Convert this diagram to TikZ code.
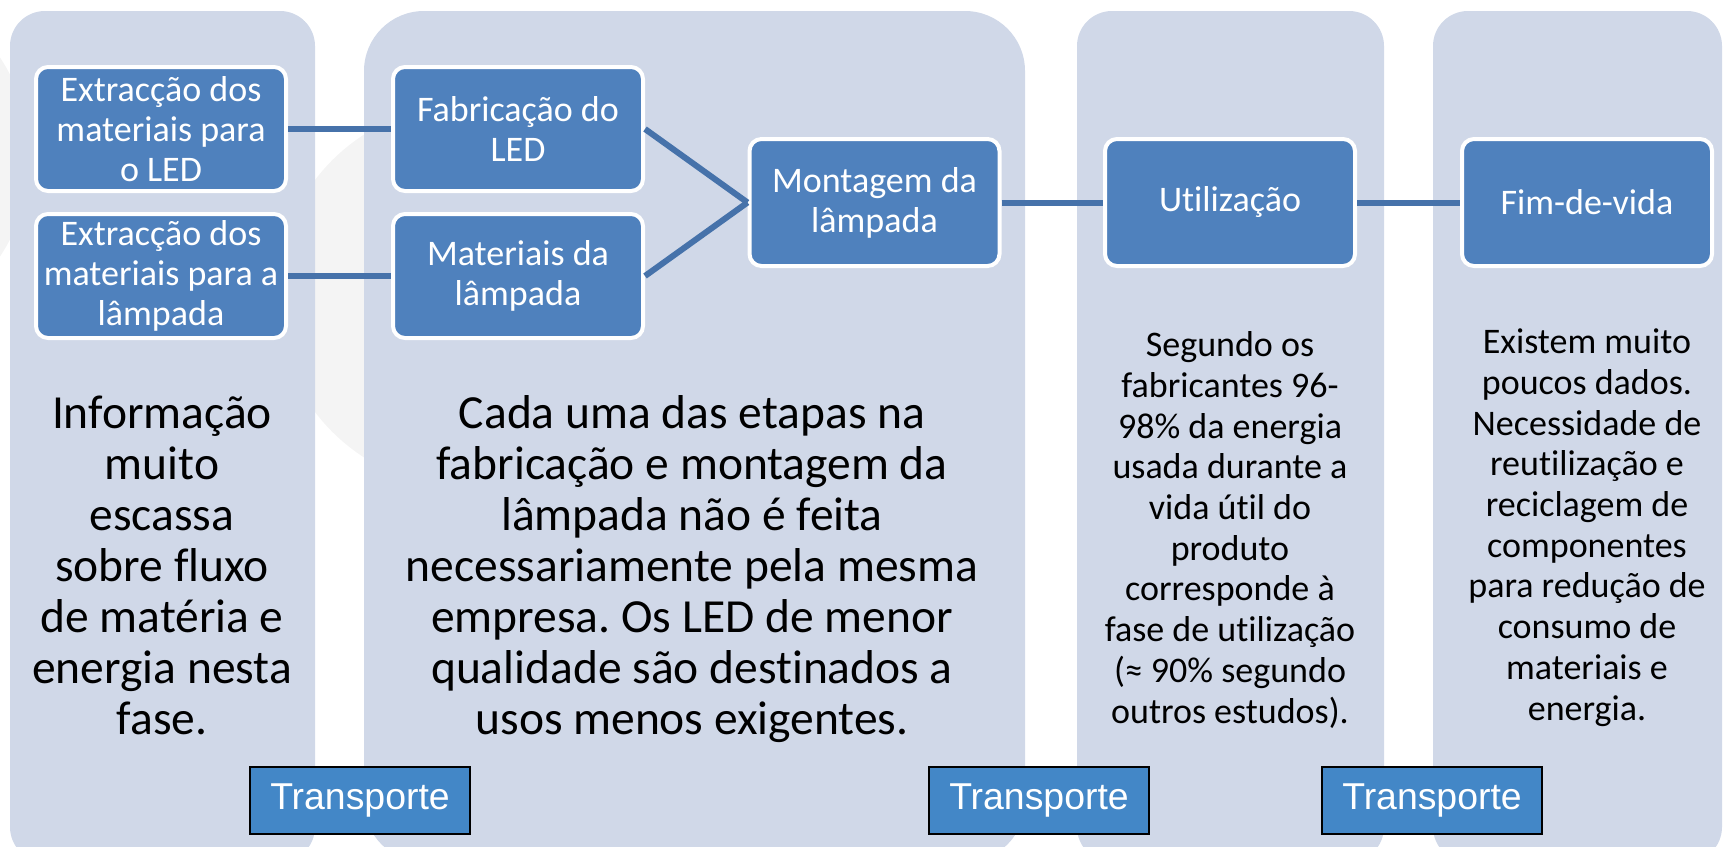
\documentclass[tikz,border=0pt]{standalone}
\usepackage{fontspec}
\setmainfont{Carlito}[Ligatures=NoCommon]
\newfontfamily\arialfont{Liberation Sans}
\usepackage{tikz}
\frenchspacing

\definecolor{panelfill}{HTML}{D0D8E8}
\definecolor{boxfill}{HTML}{4F81BD}
\definecolor{linkblue}{HTML}{4672AA}
\definecolor{transfill}{HTML}{4387C7}
\definecolor{markgray}{HTML}{F4F4F4}

\begin{document}
\begin{tikzpicture}[x=0.5pt,y=0.5pt,yscale=-1,xscale=1,
  panel/.style={fill=panelfill,draw=none},
  stage/.style={rectangle,rounded corners=6pt,fill=boxfill,draw=white,line width=2pt,text=white,align=center,minimum width=125pt,minimum height=62pt,inner sep=0pt,font=\fontsize{18}{20}\selectfont},
  link/.style={draw=linkblue,line width=3pt},
  transbox/.style={rectangle,fill=transfill,draw=black,line width=1pt,text=white,minimum width=110pt,minimum height=33.5pt,inner sep=0pt,font=\arialfont\fontsize{18.7}{20}\selectfont},
  bigtext/.style={align=center,inner sep=0pt,font=\fontsize{23.75}{25.5}\selectfont},
  smalltext/.style={align=center,inner sep=0pt,font=\fontsize{18}{20.35}\selectfont}]
\useasboundingbox (0,0) rectangle (1724,846);
\clip (0,0) rectangle (1724,846);

%Faint background marks
\fill[markgray] (468,296) circle [radius=192];
\fill[markgray] (-150,157) circle [radius=180];

%Panels
\draw[panel,rounded corners=17.5pt] (10,11) rectangle (315,862);
\draw[panel,rounded corners=30pt] (364,11) rectangle (1025,862);
\draw[panel,rounded corners=17.5pt] (1077,11) rectangle (1384,862);
\draw[panel,rounded corners=17.5pt] (1433,11) rectangle (1722,862);

% Stage boxes
\node (extled) at (161,129) [stage] {Extracção dos\\materiais para\\o LED};
\node (extlamp) at (161,276) [stage] {Extracção dos\\materiais para a\\lâmpada};
\node (fabled) at (518,129) [stage] {Fabricação do\\LED};
\node (matlamp) at (518,276) [stage] {Materiais da\\lâmpada};
\node (montagem) at (874.5,202.5) [stage,minimum height=63.5pt] {Montagem da\\lâmpada};
\node (utilizacao) at (1230,202.5) [stage,minimum height=63.5pt] {Utilização};
\node (fimvida) at (1587,202.5) [stage,minimum height=63.5pt] {Fim-de-vida};

%Straight Lines
\draw[link] (extled) -- (fabled);
\draw[link] (extlamp) -- (matlamp);
\draw[link] (fabled.east) -- (montagem.west);
\draw[link] (matlamp.east) -- (montagem.west);
\draw[link] (montagem) -- (utilizacao);
\draw[link] (utilizacao) -- (fimvida);

% Text Node
\node (infotext) at (162,734) [bigtext,anchor=base] {Informação\\muito\\escassa\\sobre fluxo\\de matéria e\\energia nesta\\fase.};
% Text Node
\node (etapastext) at (692,734) [bigtext,anchor=base] {Cada uma das etapas na\\fabricação e montagem da\\lâmpada não é feita\\necessariamente pela mesma\\empresa. Os LED de menor\\qualidade são destinados a\\usos menos exigentes.};
% Text Node
\node (usotext) at (1230,723) [smalltext,anchor=base] {Segundo os\\fabricantes 96-\\98\% da energia\\usada durante a\\vida útil do\\produto\\corresponde à\\fase de utilização\\(≈ 90\% segundo\\outros estudos).};
% Text Node
\node (fimtext) at (1587,720) [smalltext,anchor=base] {Existem muito\\poucos dados.\\Necessidade de\\reutilização e\\reciclagem de\\componentes\\para redução de\\consumo de\\materiais e\\energia.};

% Transport boxes
\node (transp1) at (360,800.5) [transbox] {Transporte};
\node (transp2) at (1039,800.5) [transbox] {Transporte};
\node (transp3) at (1432,800.5) [transbox] {Transporte};

\end{tikzpicture}
\end{document}
